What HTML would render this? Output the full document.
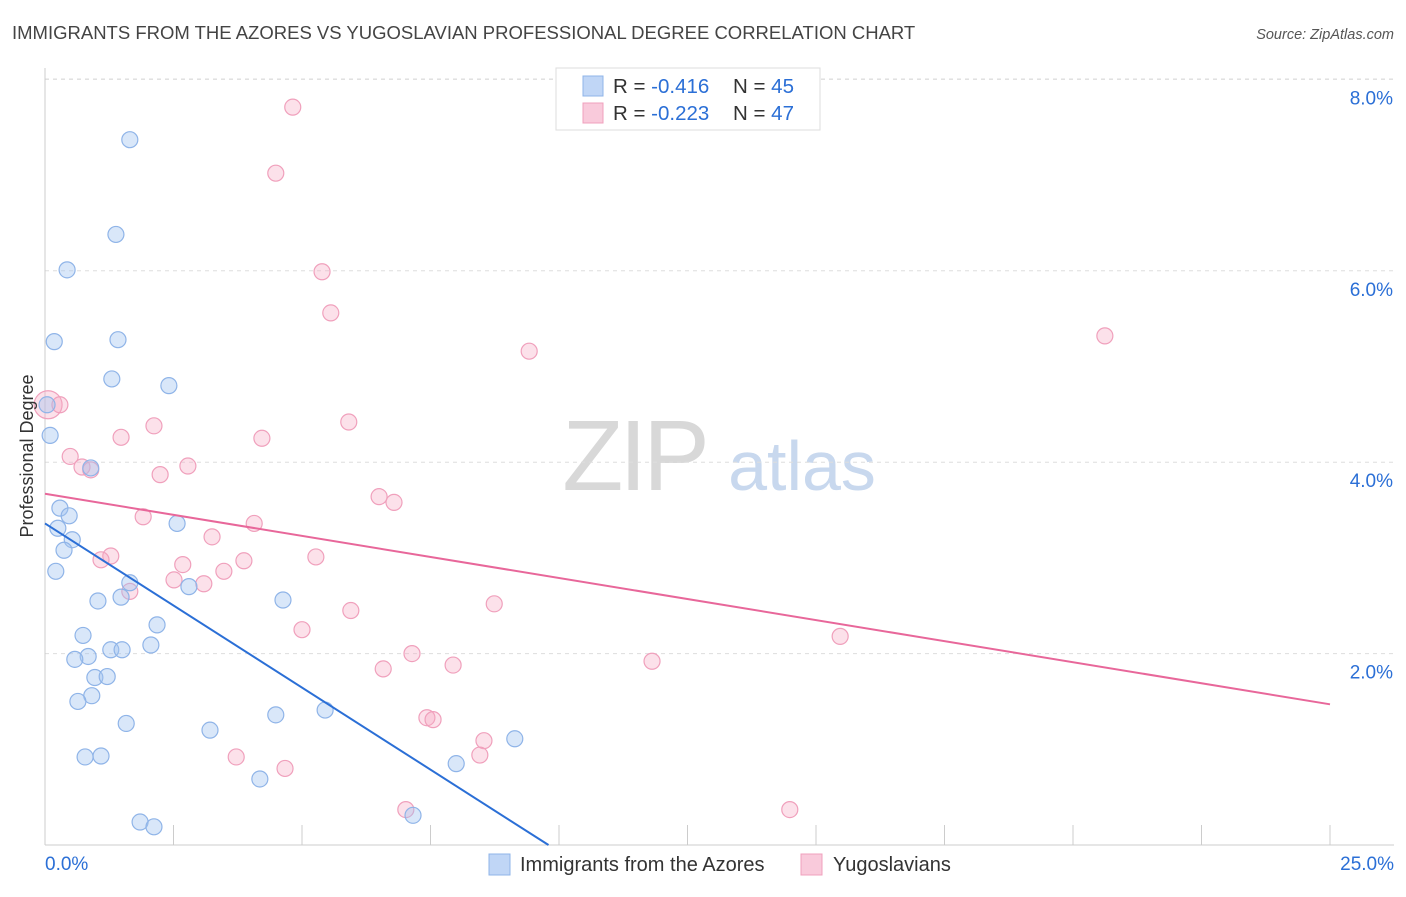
<!DOCTYPE html>
<html><head><meta charset="utf-8"><style>
body{margin:0;background:#fff;font-family:"Liberation Sans",sans-serif;}
svg text{font-family:"Liberation Sans",sans-serif;}
</style></head><body>
<svg id="chart" width="1406" height="892" viewBox="0 0 1406 892">
<text x="12" y="39" font-size="18.5" fill="#444">IMMIGRANTS FROM THE AZORES VS YUGOSLAVIAN PROFESSIONAL DEGREE CORRELATION CHART</text>
<text x="1394" y="39" font-size="14.5" fill="#555" text-anchor="end" font-style="italic">Source: ZipAtlas.com</text>
<g>
<text x="634" y="490" font-size="100" fill="#d8d8d8" text-anchor="middle" font-family="Liberation Serif" letter-spacing="-4">ZIP</text>
<text x="802" y="490" font-size="70" fill="#c8d8ee" text-anchor="middle">atlas</text>
</g>
<g id="grid"></g>
<g id="axes"></g>
<g id="marks"></g>
<text transform="translate(33,456) rotate(-90)" font-size="18" fill="#333" text-anchor="middle">Professional Degree</text>
<g>
<rect x="556" y="68" width="264" height="62" fill="#fff" stroke="#ddd"/>
<rect x="583" y="76" width="20" height="20" fill="#c0d6f6" stroke="#8fb4e8"/>
<rect x="583" y="103" width="20" height="20" fill="#f9cadb" stroke="#f0a0bc"/>
<text x="613" y="93" font-size="20.5" fill="#333">R = <tspan fill="#2b6fd6">-0.416</tspan><tspan x="733">N = </tspan><tspan fill="#2b6fd6">45</tspan></text>
<text x="613" y="120" font-size="20.5" fill="#333">R = <tspan fill="#2b6fd6">-0.223</tspan><tspan x="733">N = </tspan><tspan fill="#2b6fd6">47</tspan></text>
</g>
<g>
<rect x="489" y="854" width="21" height="21" fill="#c0d6f6" stroke="#8fb4e8"/>
<text x="520" y="871" font-size="20" fill="#333">Immigrants from the Azores</text>
<rect x="801" y="854" width="21" height="21" fill="#f9cadb" stroke="#f0a0bc"/>
<text x="833" y="871" font-size="20" fill="#333">Yugoslavians</text>
</g>
</svg>
<script>
const yTicks=[2,4,6,8];
const yTickLabels=["2.0%","4.0%","6.0%","8.0%"];
const xTicks=[0,2.5,5,7.5,10,12.5,15,17.5,20,22.5,25];
const azoresX=[1.65,1.38,0.43,0.18,1.42,1.30,2.41,0.04,0.10,0.89,0.29,0.47,0.25,0.53,0.37,0.21,1.65,1.48,2.80,1.03,2.57,4.63,2.18,0.74,2.06,1.28,1.50,0.84,0.58,0.97,1.21,0.91,0.64,1.58,3.21,4.49,5.45,9.14,0.78,1.09,4.18,8.00,1.85,2.12,7.16];
const azoresY=[7.37,6.38,6.01,5.26,5.28,4.87,4.80,4.60,4.28,3.94,3.52,3.44,3.31,3.19,3.08,2.86,2.74,2.59,2.70,2.55,3.36,2.56,2.30,2.19,2.09,2.04,2.04,1.97,1.94,1.75,1.76,1.56,1.50,1.27,1.20,1.36,1.41,1.11,0.92,0.93,0.69,0.85,0.24,0.19,0.31];
const yugoX=[4.82,4.49,5.39,5.56,9.42,20.62,0.06,0.29,5.91,2.12,1.48,4.22,0.49,2.78,0.72,0.89,2.24,6.50,6.79,1.91,4.07,3.25,1.28,1.09,5.27,3.87,2.68,3.48,2.51,3.09,1.65,8.74,5.95,5.00,15.47,7.14,7.94,11.81,6.58,7.43,7.55,3.72,8.54,8.46,4.67,7.02,14.49];
const yugoY=[7.71,7.02,5.99,5.56,5.16,5.32,4.60,4.60,4.42,4.38,4.26,4.25,4.06,3.96,3.95,3.92,3.87,3.64,3.58,3.43,3.36,3.22,3.02,2.98,3.01,2.97,2.93,2.86,2.77,2.73,2.65,2.52,2.45,2.25,2.18,2.00,1.88,1.92,1.84,1.33,1.31,0.92,1.09,0.94,0.80,0.37,0.37];
const azoresTrend=[3.36,-0.343];
const yugoTrend=[3.67,-0.088];
const NS="http://www.w3.org/2000/svg";
const sx=v=>45+v*51.4, sy=v=>845-v*95.7;
function mk(tag,attrs,parent){const e=document.createElementNS(NS,tag);for(const k in attrs)e.setAttribute(k,attrs[k]);parent.appendChild(e);return e;}
const gridG=document.getElementById('grid'),axesG=document.getElementById('axes'),marksG=document.getElementById('marks');
yTicks.forEach((t,i)=>{
 const l=mk('line',{x1:45,x2:1394,y1:sy(t),y2:sy(t),stroke:'#ddd','stroke-dasharray':'4,4'},gridG);
 
 
 const tx=mk('text',{x:1393,y:sy(t)+25,'font-size':19,fill:'#2b6fd6','text-anchor':'end'},axesG);
 tx.textContent=yTickLabels[i];
 
 
});
const topGrid=mk('line',{x1:45,x2:1394,y1:79,y2:79,stroke:'#ddd','stroke-dasharray':'4,4'},gridG);


const yAxisLine=mk('line',{x1:45,x2:45,y1:68,y2:845,stroke:'#ccc'},axesG);


const xAxisLine=mk('line',{x1:45,x2:1394,y1:845,y2:845,stroke:'#ccc'},axesG);


xTicks.forEach(t=>{const l=mk('line',{x1:sx(t),x2:sx(t),y1:825,y2:845,stroke:'#ccc'},axesG);
 
 });
const xl0=mk('text',{x:45,y:870,'font-size':19,fill:'#2b6fd6'},axesG);xl0.textContent='0.0%';


const xl1=mk('text',{x:1394,y:870,'font-size':19,fill:'#2b6fd6','text-anchor':'end'},axesG);xl1.textContent='25.0%';


yugoX.forEach((x,i)=>{const c=mk('circle',{cx:sx(x),cy:sy(yugoY[i]),r:i==6?14:8,fill:'rgba(245,170,195,0.35)',stroke:'#f0a0bc','stroke-width':1.2},marksG);
 
 });
azoresX.forEach((x,i)=>{const c=mk('circle',{cx:sx(x),cy:sy(azoresY[i]),r:8,fill:'rgba(160,196,240,0.4)',stroke:'#8fb4e8','stroke-width':1.2},marksG);
 
 });
const xEndA=-azoresTrend[0]/azoresTrend[1];
const la=mk('line',{x1:sx(0),y1:sy(azoresTrend[0]),x2:sx(xEndA),y2:sy(0),stroke:'#2b6fd6','stroke-width':2},marksG);


const lb=mk('line',{x1:sx(0),y1:sy(yugoTrend[0]),x2:sx(25),y2:sy(yugoTrend[0]+25*yugoTrend[1]),stroke:'#e8679a','stroke-width':2},marksG);


</script>
</body></html>
